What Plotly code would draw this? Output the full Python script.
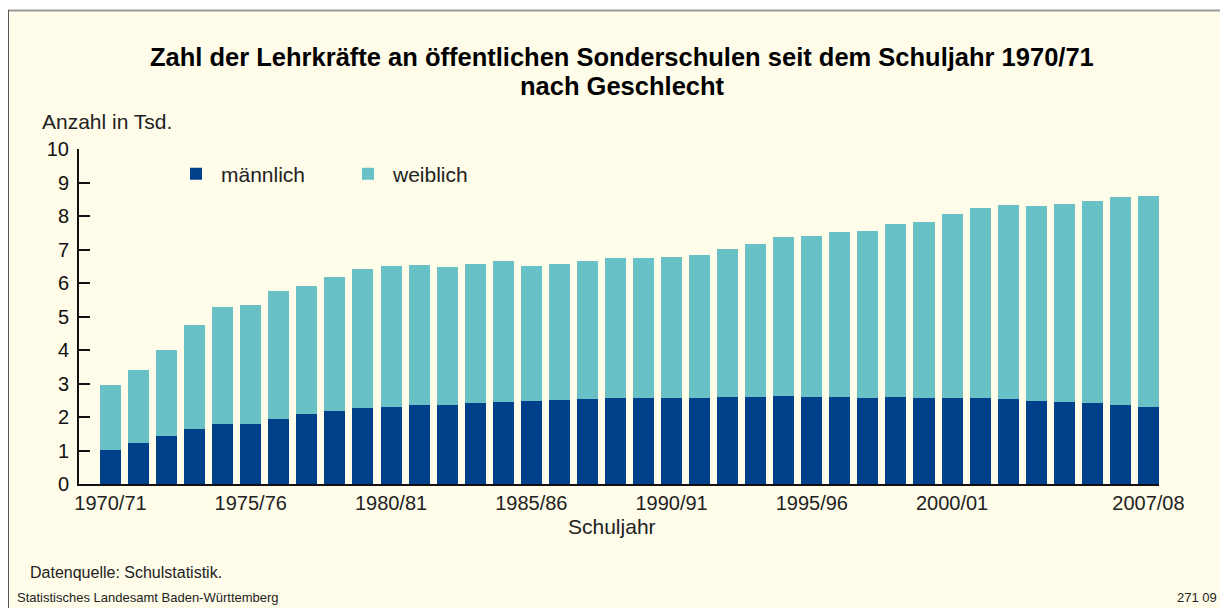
import plotly.graph_objects as go

schuljahre = [f"{y}/{str(y + 1)[-2:]}" for y in range(1970, 2008)]
maennlich = [1.02, 1.22, 1.43, 1.64, 1.79, 1.79, 1.94, 2.09, 2.18, 2.27,
             2.30, 2.36, 2.36, 2.42, 2.45, 2.48, 2.51, 2.54, 2.57, 2.57,
             2.57, 2.57, 2.60, 2.60, 2.63, 2.60, 2.60, 2.57, 2.60, 2.57,
             2.57, 2.57, 2.54, 2.48, 2.45, 2.42, 2.36, 2.30]
gesamt = [2.96, 3.40, 4.00, 4.75, 5.28, 5.34, 5.76, 5.91, 6.18, 6.42,
          6.51, 6.54, 6.48, 6.57, 6.66, 6.51, 6.57, 6.66, 6.75, 6.75,
          6.78, 6.84, 7.01, 7.16, 7.37, 7.40, 7.52, 7.55, 7.76, 7.82,
          8.06, 8.24, 8.33, 8.30, 8.36, 8.45, 8.57, 8.60]
weiblich = [round(g - m, 2) for g, m in zip(gesamt, maennlich)]
tick_labels = ["1970/71", "1975/76", "1980/81", "1985/86", "1990/91",
               "1995/96", "2000/01", "2007/08"]

FONT = "Liberation Sans, Arial, Helvetica, sans-serif"
DARK = "#00408A"
LIGHT = "#68C1C6"
CREAM = "#FFFCE9"

# the page places the figure at an 8px offset; coordinates below are screen px
OFF = 8
FW, FH = 1220, 600
L, R, T, B = 79 - OFF, 1159 - OFF, 149 - OFF, 484 - OFF
W, H = R - L, B - T


def px(x):
    return (x - OFF - L) / W


def py(y):
    return (B - (y - OFF)) / H


fig = go.Figure()
fig.add_trace(go.Bar(x=schuljahre, y=maennlich, name="männlich",
                     marker=dict(color=DARK, line=dict(width=0))))
fig.add_trace(go.Bar(x=schuljahre, y=weiblich, name="weiblich",
                     marker=dict(color=LIGHT, line=dict(width=0))))

fig.update_layout(
    width=FW, height=FH,
    margin=dict(l=L, r=FW - R, t=T, b=FH - B, pad=0),
    barmode="stack", bargap=0.25,
    paper_bgcolor="white", plot_bgcolor="rgba(0,0,0,0)",
    font=dict(family=FONT, size=20, color="#222222"),
    showlegend=True,
    legend=dict(orientation="h", x=px(171), y=py(174), xanchor="left",
                yanchor="middle", bgcolor="rgba(0,0,0,0)",
                font=dict(size=21, color="#222222"),
                itemwidth=40,
                entrywidth=117, entrywidthmode="pixels",
                traceorder="normal"),
    xaxis=dict(type="category", range=[-1.123, 37.377],
               tickmode="array", tickvals=tick_labels, ticktext=tick_labels,
               showline=True, linecolor="#111111", linewidth=2,
               ticks="", showgrid=False, zeroline=False,
               tickfont=dict(size=20, color="#222222")),
    yaxis=dict(range=[0, 10], tickmode="linear", tick0=0, dtick=1,
               showline=True, linecolor="#111111", linewidth=2,
               ticks="inside", ticklen=11, tickwidth=2, tickcolor="#111111",
               showgrid=False, zeroline=False, ticklabelstandoff=4,
               tickfont=dict(size=20, color="#111111")),
)

# background frame
fig.add_shape(type="rect", xref="paper", yref="paper",
              x0=px(7), x1=px(1240), y0=py(620), y1=py(10),
              fillcolor=CREAM, line=dict(width=0), layer="below")
fig.add_shape(type="line", xref="paper", yref="paper",
              x0=px(7), x1=px(1240), y0=py(10.5), y1=py(10.5),
              line=dict(color="#9A9A96", width=2), layer="below")
fig.add_shape(type="line", xref="paper", yref="paper",
              x0=px(8.5), x1=px(8.5), y0=py(10), y1=py(620),
              line=dict(color="#555555", width=1), layer="below")


def ann(text, x, y, size, xanchor="left", color="#222222", bold=False):
    fig.add_annotation(text=f"<b>{text}</b>" if bold else text,
                       xref="paper", yref="paper", x=px(x), y=py(y),
                       xanchor=xanchor, yanchor="middle", showarrow=False,
                       font=dict(family=FONT, size=size, color=color))


ann("Zahl der Lehrkräfte an öffentlichen Sonderschulen seit dem Schuljahr 1970/71",
    622, 56.5, 25.5, xanchor="center", color="#000000", bold=True)
ann("nach Geschlecht", 622, 85.5, 25.5, xanchor="center", color="#000000", bold=True)
ann("Anzahl in Tsd.", 40, 122, 21)
ann("Schuljahr", 612, 526, 21, xanchor="center")
ann("Datenquelle: Schulstatistik.", 28, 572, 16)
ann("Statistisches Landesamt Baden-Württemberg", 15, 597, 13)
ann("271 09", 1219, 597, 13, xanchor="right")

fig.write_html("out.html")
